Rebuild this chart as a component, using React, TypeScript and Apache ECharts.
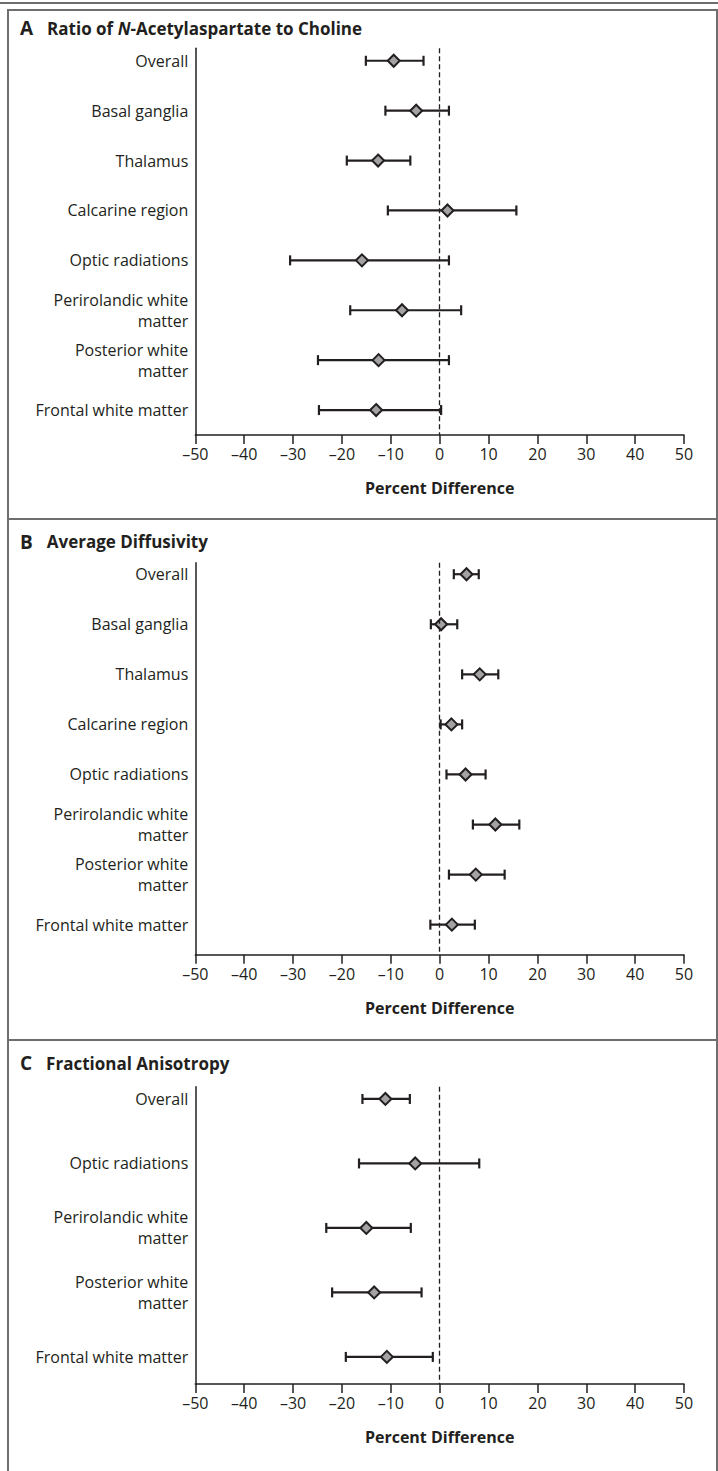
import React, { useEffect, useRef } from "react";
import * as echarts from "echarts";

// ---- Data ----
const catsA = [
  "Overall",
  "Basal ganglia",
  "Thalamus",
  "Calcarine region",
  "Optic radiations",
  "Perirolandic white\nmatter",
  "Posterior white\nmatter",
  "Frontal white matter",
];
const midA = [-9.4, -4.8, -12.6, 1.6, -15.9, -7.7, -12.5, -13.0];
const lowA = [-15.1, -11.1, -19.0, -10.6, -30.6, -18.3, -24.9, -24.7];
const highA = [-3.3, 1.9, -6.0, 15.7, 1.9, 4.4, 1.9, 0.3];

const catsB = [
  "Overall",
  "Basal ganglia",
  "Thalamus",
  "Calcarine region",
  "Optic radiations",
  "Perirolandic white\nmatter",
  "Posterior white\nmatter",
  "Frontal white matter",
];
const midB = [5.5, 0.3, 8.2, 2.4, 5.3, 11.4, 7.4, 2.5];
const lowB = [2.9, -1.8, 4.6, 0.2, 1.4, 6.8, 1.9, -1.9];
const highB = [8.0, 3.6, 12.0, 4.6, 9.4, 16.3, 13.3, 7.2];

const catsC = [
  "Overall",
  "Optic radiations",
  "Perirolandic white\nmatter",
  "Posterior white\nmatter",
  "Frontal white matter",
];
const midC = [-11.1, -5.0, -15.0, -13.4, -10.8];
const lowC = [-15.8, -16.5, -23.2, -22.0, -19.2];
const highC = [-6.1, 8.1, -5.9, -3.7, -1.4];

const panelLetters = ["A", "B", "C"];
const panelTitles = [
  ["Ratio of ", "N", "-Acetylaspartate to Choline"],
  ["Average Diffusivity", "", ""],
  ["Fractional Anisotropy", "", ""],
];
const xAxisName = "Percent Difference";

// ---- Styles ----
const FONT = "'Open Sans', 'Noto Sans', sans-serif";
const INK = "#231f20";
const FRAME = "#6e6e6e";

const panels = [
  { top: 48.3, height: 386.7, yMin: -0.25, yMax: 7.5, cats: catsA, low: lowA, mid: midA, high: highA, titleY: 28.3 },
  { top: 562.7, height: 392, yMin: -0.23, yMax: 7.6, cats: catsB, low: lowB, mid: midB, high: highB, titleY: 541.7 },
  { top: 1086.7, height: 297.3, yMin: -0.19, yMax: 4.42, cats: catsC, low: lowC, mid: midC, high: highC, titleY: 1063 },
];

function buildOption() {
  const grid: any[] = [];
  const xAxis: any[] = [];
  const yAxis: any[] = [];
  const series: any[] = [];
  const title: any[] = [];

  panels.forEach((p, i) => {
    grid.push({ left: 195.3, width: 488.7, top: p.top, height: p.height, containLabel: false });
    xAxis.push({
      type: "value",
      gridIndex: i,
      min: -50,
      max: 50,
      interval: 10,
      axisLine: { show: true, onZero: false, lineStyle: { color: INK, width: 1.5 } },
      axisTick: { show: true, length: 9, lineStyle: { color: INK, width: 1.5 } },
      splitLine: { show: false },
      axisLabel: {
        color: INK,
        fontFamily: FONT,
        fontSize: 16,
        margin: 11,
        formatter: (v: number) => (v < 0 ? "\u2013" + Math.abs(v) : String(v)),
      },
      name: xAxisName,
      nameLocation: "middle",
      nameGap: 45,
      nameTextStyle: { color: INK, fontFamily: FONT, fontSize: 16, fontWeight: "bold" },
    });
    const cats = p.cats;
    yAxis.push({
      type: "value",
      gridIndex: i,
      inverse: true,
      min: p.yMin,
      max: p.yMax,
      axisLine: { show: true, onZero: false, lineStyle: { color: INK, width: 1.5 } },
      axisTick: { show: false },
      splitLine: { show: false },
      axisLabel: {
        customValues: cats.map((_, k) => k),
        formatter: (v: number) => cats[Math.round(v)] ?? "",
        color: INK,
        fontFamily: FONT,
        fontSize: 16,
        lineHeight: 21,
        margin: 7,
        align: "right",
      },
    });

    // zero reference line
    series.push({
      type: "scatter",
      xAxisIndex: i,
      yAxisIndex: i,
      data: [],
      z: 1,
      silent: true,
      markLine: {
        silent: true,
        symbol: "none",
        label: { show: false },
        lineStyle: { color: INK, width: 1.3, type: [5, 3] },
        data: [{ xAxis: 0 }],
      },
    });

    // confidence intervals
    series.push({
      type: "custom",
      xAxisIndex: i,
      yAxisIndex: i,
      z: 2,
      silent: true,
      data: p.low.map((l, k) => [l, p.high[k], k]),
      encode: { x: [0, 1], y: 2 },
      renderItem: (params: any, api: any) => {
        const y = api.value(2);
        const a = api.coord([api.value(0), y]);
        const b = api.coord([api.value(1), y]);
        const h = 5;
        const st = { stroke: INK, lineWidth: 2.2 };
        return {
          type: "group",
          children: [
            { type: "line", shape: { x1: a[0], y1: a[1], x2: b[0], y2: b[1] }, style: st },
            { type: "line", shape: { x1: a[0], y1: a[1] - h, x2: a[0], y2: a[1] + h }, style: st },
            { type: "line", shape: { x1: b[0], y1: b[1] - h, x2: b[0], y2: b[1] + h }, style: st },
          ],
        };
      },
    });

    // point estimates
    series.push({
      type: "scatter",
      xAxisIndex: i,
      yAxisIndex: i,
      z: 3,
      symbol: "diamond",
      symbolSize: [12, 12],
      itemStyle: { color: "#a3a3a3", borderColor: INK, borderWidth: 2, opacity: 1 },
      data: p.mid.map((m, k) => [m, k]),
    });

    const [t1, ti, t2] = panelTitles[i];
    title.push({
      text: `{a|${panelLetters[i]}}{t|${t1}}` + (ti ? `{ti|${ti}}` : "") + (t2 ? `{t|${t2}}` : ""),
      left: 20,
      top: p.titleY - 11,
      padding: 0,
      textStyle: {
        rich: {
          a: { fontFamily: FONT, fontSize: 19, fontWeight: "bold", color: INK, lineHeight: 22, padding: [0, 14, 0, 0] },
          t: { fontFamily: FONT, fontSize: 17, fontWeight: "bold", color: INK, lineHeight: 22 },
          ti: { fontFamily: FONT, fontSize: 17, fontWeight: "bold", fontStyle: "italic", color: INK, lineHeight: 22 },
        },
      },
    });
  });

  const ln = (x1: number, y1: number, x2: number, y2: number, w = 2) => ({
    type: "line",
    silent: true,
    shape: { x1, y1, x2, y2 },
    style: { stroke: FRAME, lineWidth: w },
  });

  const graphic = [
    { type: "rect", silent: true, shape: { x: 0, y: 2, width: 718, height: 2 }, style: { fill: FRAME } },
    ln(8, 10, 717, 10),
    ln(8, 9, 8, 1471),
    ln(717, 9, 717, 1471),
    ln(8, 519, 717, 519),
    ln(8, 1040, 717, 1040),
  ];

  return {
    animation: false,
    backgroundColor: "#ffffff",
    title,
    grid,
    xAxis,
    yAxis,
    series,
    graphic,
  };
}

export default function App() {
  const ref = useRef<HTMLDivElement>(null);
  useEffect(() => {
    document.body.style.margin = "0";
    if (!ref.current) return;
    const chart = echarts.init(ref.current, undefined, { renderer: "svg" });
    chart.setOption(buildOption() as any);
    return () => chart.dispose();
  }, []);
  return <div ref={ref} style={{ width: 718, height: 1471 }} />;
}
